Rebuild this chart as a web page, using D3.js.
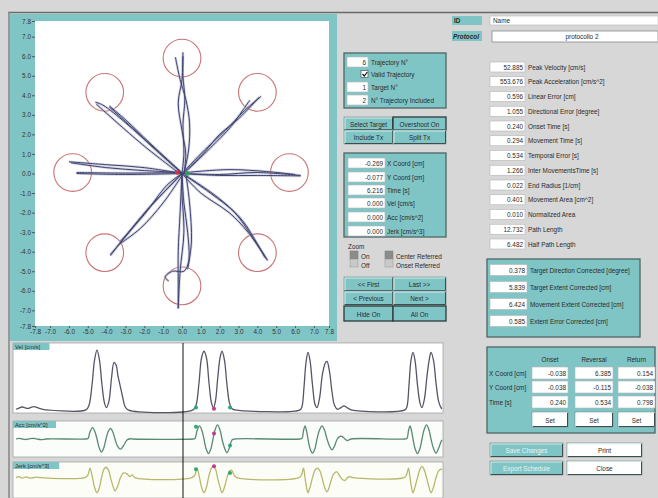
<!DOCTYPE html>
<html><head><meta charset="utf-8">
<script src="https://cdn.jsdelivr.net/npm/d3@7"></script>
<style>body{margin:0;background:#d7d7d7;} svg{display:block;font-family:"Liberation Sans",Arial,sans-serif;}</style>
</head><body><svg id="c" width="658" height="498"></svg>
<script>
// ---------------- DATA ----------------
const axisTicks = [-7.8,-7,-6,-5,-4,-3,-2,-1,0,1,2,3,4,5,6,7,7.8];
const targetX = [0, 4.0, 5.7, 4.0, 0, -4.1, -5.8, -4.1];
const targetY = [5.9, 4.15, 0.05, -4.05, -5.75, -4.05, 0.05, 4.15];
const targetRadius = 1.0;
const trajectories = [
  [[0,0],[0.1,1],[0.05,2.5],[0.15,3.8],[0.05,5.0],[0.05,6.2]],
  [[0.1,0],[0.35,1.2],[0.4,2.6],[0.2,3.8],[-0.1,4.8],[-0.35,5.95]],
  [[0.05,6.0],[0,4.8],[-0.2,3.6],[0.0,2.2],[0.2,1.0],[0.1,0]],
  [[0,0],[-1.5,1.3],[-3.0,2.6],[-4.2,3.5],[-4.6,3.65]],
  [[-4.55,3.55],[-3.5,2.65],[-2,1.4],[-0.2,0.05]],
  [[0.05,0],[-1.7,1.55],[-3.0,2.75],[-3.85,3.45]],
  [[-3.85,3.4],[-2.6,2.3],[-1.2,1.05],[0,0]],
  [[0,0],[1.2,1.2],[2.3,2.2],[3.3,3.2],[4.2,3.95]],
  [[0.1,0],[1.5,1.3],[2.6,2.4],[3.2,3.2],[3.6,3.75]],
  [[4.1,3.9],[3.0,2.8],[2.0,2.0],[1.2,1.1],[0.1,0.05]],
  [[0,0],[-2,0.3],[-4,0.45],[-6.0,0.6]],
  [[-5.9,0.55],[-4,0.3],[-2,0.15],[0,0.05]],
  [[0,0.05],[-3,0.02],[-5.6,0.05]],
  [[-5.6,0.0],[-3,-0.05],[0,0]],
  [[0,0],[2,-0.05],[4,0.05],[6.3,-0.1]],
  [[6.3,-0.12],[4,-0.1],[2,-0.1],[0,0]],
  [[0.2,0.05],[2.5,0.2],[4.5,0.1],[6.0,-0.05]],
  [[0,0],[-1.2,-1.2],[-2.5,-2.6],[-3.8,-4.2]],
  [[-3.8,-4.15],[-2.8,-3.0],[-1.8,-1.8],[-0.6,-0.6],[0,0]],
  [[0,-0.1],[-1.0,-1.5],[-2.2,-2.8],[-3.3,-3.6]],
  [[-3.3,-3.5],[-2.0,-2.1],[-0.8,-0.6],[0,0]],
  [[0,0],[1.5,-1.0],[2.8,-2.0],[3.7,-3.2],[4.55,-4.45]],
  [[4.5,-4.4],[3.5,-3.0],[2.5,-2.0],[1.0,-1.0],[0,0]],
  [[0.2,-0.1],[2,-1.3],[3.2,-2.4],[4.0,-3.6],[4.4,-4.3]],
  [[0,0],[0.1,-1.5],[0.3,-3],[0.35,-4.5],[0.1,-5.0],[-0.5,-5.0],[-0.9,-5.3],[-0.7,-5.5]],
  [[0,0],[-0.1,-2],[-0.2,-4],[-0.2,-5.5],[-0.2,-6.9]],
  [[-0.2,-6.9],[-0.1,-5],[0.1,-3],[0,-1],[0,0]],
  [[0.2,0],[0.4,-1.5],[0.5,-3.5],[0.3,-4.9]]
];
const onsetDots = [[-0.25,0.05,'#d03040'],[0.3,0.0,'#30a060']];

const velData = [
[0.00,0.5],[0.06,1.5],[0.12,2.5],[0.18,1.8],[0.24,1.2],[0.30,2.2],[0.36,2.8],[0.44,1.8],[0.52,0.6],[0.60,0],
[1.40,0],[1.46,4],[1.52,22],[1.57,44],[1.62,53],[1.67,44],[1.72,22],[1.77,6],[1.81,2],[1.86,8],[1.91,28],[1.96,42],[2.00,40],[2.04,30],[2.08,22],[2.13,12],[2.18,3],[2.24,0],
[3.54,0],[3.60,4],[3.66,24],[3.71,46],[3.76,52],[3.81,46],[3.86,24],[3.91,6],[3.95,2],[3.99,8],[4.03,26],[4.08,46],[4.12,52],[4.17,44],[4.22,22],[4.27,6],[4.32,1],[4.38,0],
[5.68,0],[5.72,3],[5.76,20],[5.80,42],[5.84,51],[5.88,44],[5.93,22],[5.98,5],[6.02,2],[6.07,10],[6.13,32],[6.19,42],[6.22,43],[6.27,34],[6.32,16],[6.37,4],[6.43,0.5],[6.50,2],[6.56,3.5],[6.62,2],[6.70,0],
[7.78,0],[7.82,3],[7.86,22],[7.90,44],[7.94,51],[7.98,44],[8.03,22],[8.08,6],[8.12,2],[8.17,10],[8.22,30],[8.27,46],[8.30,51],[8.35,44],[8.40,24],[8.45,8],[8.50,2],[8.52,1]
];
const accData = [
[0,0],[0.06,25],[0.12,0],[0.20,-20],[0.28,15],[0.36,25],[0.44,-10],[0.52,-25],[0.60,0],
[1.40,0],[1.44,20],[1.48,300],[1.53,480],[1.58,300],[1.62,0],[1.66,-350],[1.71,-560],[1.76,-350],[1.80,0],[1.84,300],[1.89,450],[1.94,280],[1.98,0],[2.03,-300],[2.09,-430],[2.15,-280],[2.22,-40],[2.28,10],[2.34,0],
[3.54,0],[3.58,20],[3.62,350],[3.67,560],[3.72,350],[3.76,0],[3.80,-400],[3.85,-620],[3.90,-400],[3.94,0],[3.98,380],[4.03,600],[4.08,380],[4.12,0],[4.17,-380],[4.22,-580],[4.27,-360],[4.32,-40],[4.38,0],
[5.68,0],[5.72,30],[5.75,350],[5.78,560],[5.81,350],[5.84,0],[5.88,-400],[5.93,-600],[5.98,-400],[6.02,0],[6.07,380],[6.12,560],[6.17,380],[6.22,0],[6.27,-300],[6.32,-460],[6.37,-300],[6.42,-20],[6.47,100],[6.52,110],[6.58,0],[6.63,-70],[6.70,0],
[7.78,0],[7.82,30],[7.85,350],[7.88,560],[7.91,350],[7.94,0],[7.98,-400],[8.03,-620],[8.08,-400],[8.12,0],[8.16,380],[8.21,600],[8.26,380],[8.30,0],[8.35,-400],[8.40,-600],[8.45,-400],[8.50,-120],[8.52,-40]
];
const jerkData = [
[0,0],[0.06,1],[0.12,-0.5],[0.20,0.8],[0.30,-0.6],[0.40,0.5],[0.50,0],
[1.38,0],[1.44,3],[1.48,10],[1.53,0],[1.57,-10],[1.62,-16],[1.67,-10],[1.71,0],[1.76,9],[1.80,11],[1.85,8],[1.89,0],[1.94,-9],[1.98,-14],[2.04,-8],[2.09,0],[2.15,5],[2.22,4],[2.28,1],[2.32,3],[2.38,0],
[3.52,0],[3.58,3],[3.62,10],[3.67,0],[3.71,-10],[3.76,-16],[3.81,-10],[3.85,0],[3.90,9],[3.94,12],[3.99,9],[4.03,0],[4.08,-10],[4.12,-16],[4.17,-10],[4.22,0],[4.27,7],[4.31,8],[4.36,3],[4.42,0],
[5.66,0],[5.71,3],[5.75,10],[5.78,0],[5.81,-10],[5.84,-16],[5.88,-10],[5.93,0],[5.98,8],[6.02,10],[6.07,8],[6.12,0],[6.17,-10],[6.22,-15],[6.27,-9],[6.32,0],[6.37,5],[6.42,6],[6.47,2],[6.53,-2],[6.58,-3],[6.63,0],[6.68,1],[6.74,0],
[7.76,0],[7.81,3],[7.85,10],[7.88,0],[7.91,-10],[7.94,-16],[7.98,-10],[8.03,0],[8.08,9],[8.12,12],[8.16,9],[8.21,0],[8.26,-10],[8.30,-16],[8.35,-10],[8.40,0],[8.45,7],[8.50,9],[8.52,8]
];
const cursorT = 3.34;
const markerT = [3.60, 3.96, 4.28];
const markerColors = ['#2fa878','#c23a8a','#2fa878'];
const velMarks = [2, 1, 2];
const accMarks = [520, 230, -280];
const jerkMarks = [9, 12, 5];

const trialFields = [['6','Trajectory N°'],[null,'Valid Trajectory'],['1','Target N°'],['2','N° Trajectory Included']];
const cursorValues = ['-0.269','-0.077','6.216','0.000','0.000','0.000'];
const cursorLabels = ['X Coord [cm]','Y Coord [cm]','Time [s]','Vel [cm/s]','Acc [cm/s^2]','Jerk [cm/s^3]'];
const measureValues = ['52.885','553.676','0.596','1.055','0.240','0.294','0.534','1.266','0.022','0.401','0.010','12.732','6.482'];
const measureLabels = ['Peak Velocity [cm/s]','Peak Acceleration [cm/s^2]','Linear Error [cm]','Directional Error [degree]','Onset Time [s]','Movement Time [s]','Temporal Error [s]','Inter MovementsTime [s]','End Radius [1/cm]','Movement Area [cm^2]','Normalized Area','Path Length','Half Path Length'];
const correctedValues = ['0.378','5.839','6.424','0.585'];
const correctedLabels = ['Target Direction Corrected [degree]','Target Extent Corrected [cm]','Movement Extent Corrected [cm]','Extent Error Corrected [cm]'];
const eventCols = ['Onset','Reversal','Return'];
const eventRows = ['X Coord [cm]','Y Coord [cm]','Time [s]'];
const eventValues = [['-0.038','6.385','0.154'],['-0.038','-0.115','-0.038'],['0.240','0.534','0.798']];

// ---------------- DRAW ----------------
const svg = d3.select('#c');
const TEAL = '#80c5c6', FS = 6.4, TXT = '#2a2a2a';
svg.append('rect').attr('width',658).attr('height',498).attr('fill','#d7d7d7');

function txt(g,x,y,s,o={}){
  return g.append('text').attr('x',x).attr('y',y).attr('dominant-baseline','central')
   .attr('font-size',o.size||FS).attr('fill',o.fill||TXT).attr('text-anchor',o.anchor||'start')
   .attr('font-weight',o.bold?'bold':null).attr('font-style',o.italic?'italic':null).text(s);
}
function field(g,x,y,w,h,s,anchor='end'){
  g.append('rect').attr('x',x).attr('y',y).attr('width',w).attr('height',h).attr('fill','#fff').attr('stroke','#b4b4b4').attr('stroke-width',0.6);
  if(s!==null) txt(g, anchor==='end'?x+w-2:anchor==='middle'?x+w/2:x+3, y+h/2, s, {anchor});
}
function box(g,x,y,w,h){
  g.append('rect').attr('x',x).attr('y',y).attr('width',w).attr('height',h).attr('fill',TEAL).attr('stroke','#4d6665').attr('stroke-width',1.3);
}
function button(g,x,y,w,h,s,o={}){
  const fill=o.fill||TEAL;
  g.append('rect').attr('x',x).attr('y',y).attr('width',w).attr('height',h).attr('fill',fill).attr('stroke',o.pressed?'#2c3a3a':'#7a8e8e').attr('stroke-width',o.pressed?1.3:0.7);
  if(!o.pressed){
    g.append('path').attr('d',`M${x+1},${y+h-1}V${y+1}H${x+w-1}`).attr('fill','none').attr('stroke','#e6f4f4').attr('stroke-width',0.8);
    g.append('path').attr('d',`M${x+1},${y+h-0.5}H${x+w-0.5}V${y+1}`).attr('fill','none').attr('stroke','#3c4e4e').attr('stroke-width',1);
  }
  txt(g,x+w/2,y+h/2+0.5,s,{anchor:'middle',fill:o.color||TXT});
}

// frame lines
svg.append('line').attr('x1',8).attr('x2',658).attr('y1',12.5).attr('y2',12.5).attr('stroke','#6a6a6a').attr('stroke-width',1.6);
svg.append('line').attr('x1',9).attr('x2',9).attr('y1',12).attr('y2',498).attr('stroke','#8a8a8a').attr('stroke-width',1.6);

// ---- main trajectory plot ----
const main = svg.append('g');
main.append('rect').attr('x',10).attr('y',14).attr('width',327).attr('height',327).attr('fill',TEAL);
const x = d3.scaleLinear().domain([-7.8,7.8]).range([35,329]);
const y = d3.scaleLinear().domain([-7.8,7.8]).range([326,21]);
main.append('rect').attr('x',35).attr('y',21).attr('width',294).attr('height',305).attr('fill','#fff');
const fmt = d => d.toFixed(1);
const ya = main.append('g').attr('transform','translate(35,0)')
  .call(d3.axisLeft(y).tickValues(axisTicks).tickFormat(fmt).tickSize(3).tickPadding(1));
const xa = main.append('g').attr('transform','translate(0,326)')
  .call(d3.axisBottom(x).tickValues(axisTicks).tickFormat(fmt).tickSize(2).tickPadding(1));
[ya,xa].forEach(a=>{a.select('.domain').remove();
  a.selectAll('text').attr('font-size',FS).attr('fill','#333').attr('font-family','"Liberation Sans",Arial,sans-serif');
  a.selectAll('line').attr('stroke','#555');});
const pxPerCm = x(1)-x(0);
main.selectAll('circle.t').data(targetX).enter().append('circle')
  .attr('cx',(d)=>x(d)).attr('cy',(d,i)=>y(targetY[i])).attr('r',targetRadius*pxPerCm)
  .attr('fill','none').attr('stroke','#c97474').attr('stroke-width',1.1);
const line = d3.line().x(d=>x(d[0])).y(d=>y(d[1])).curve(d3.curveCatmullRom.alpha(0.5));
main.selectAll('path.halo').data(trajectories).enter().append('path').attr('d',line)
  .attr('fill','none').attr('stroke','#b4b6c8').attr('stroke-width',2.6).attr('opacity',0.6);
main.selectAll('path.tr').data(trajectories).enter().append('path').attr('d',line)
  .attr('fill','none').attr('stroke','#3e4272').attr('stroke-width',1);
onsetDots.forEach(d=>main.append('circle').attr('cx',x(d[0])).attr('cy',y(d[1])).attr('r',2.3).attr('fill',d[2]));

// ---- time plots ----
const tp = svg.append('g');
const t = d3.scaleLinear().domain([0,8.52]).range([16,442]);
const panels = [
  {y0:343,y1:413,data:velData,dom:[-1.5,58],color:'#555566',label:'Vel [cm/s]',marks:velMarks,bg:'#fff'},
  {y0:421,y1:457,data:accData,dom:[-700,700],color:'#5a8a72',label:'Acc [cm/s^2]',marks:accMarks,bg:'#fbfdfb'},
  {y0:462,y1:498,data:jerkData,dom:[-20,15],color:'#b7b86c',label:'Jerk [cm/s^3]',marks:jerkMarks,bg:'#fdfdf7'}
];
panels.forEach(p=>{
  tp.append('rect').attr('x',13).attr('y',p.y0).attr('width',430).attr('height',p.y1-p.y0).attr('fill',p.bg).attr('stroke','#9a9a9a').attr('stroke-width',0.7);
  const ys = d3.scaleLinear().domain(p.dom).range([p.y1-1.5,p.y0+1.5]);
  const ln = d3.line().x(d=>t(d[0])).y(d=>ys(d[1])).curve(d3.curveCatmullRom.alpha(0.5));
  tp.append('path').attr('d',ln(p.data)).attr('fill','none').attr('stroke',p.color).attr('stroke-width',1.3);
  markerT.forEach((m,i)=>tp.append('circle').attr('cx',t(m)).attr('cy',ys(p.marks[i])).attr('r',2).attr('fill',markerColors[i]));
  const lw = p.label.length*3.25+4;
  tp.append('rect').attr('x',13).attr('y',p.y0).attr('width',lw).attr('height',7).attr('fill',TEAL);
  txt(tp,15,p.y0+3.7,p.label,{size:5.8});
});
tp.append('line').attr('x1',t(cursorT)).attr('x2',t(cursorT)).attr('y1',343).attr('y2',498).attr('stroke','#111').attr('stroke-width',1);

// ---- middle panel ----
const mid = svg.append('g');
box(mid,344,53,102,55);
const rowY1=[62,74,87,100];
trialFields.forEach((f,i)=>{
  if(f[0]!==null) field(mid,347,rowY1[i]-5,21,10,f[0]);
  else {
    mid.append('rect').attr('x',361).attr('y',rowY1[i]-3.5).attr('width',7).attr('height',7).attr('fill','#fff').attr('stroke','#555').attr('stroke-width',0.7);
    mid.append('path').attr('d',`M${362.5},${rowY1[i]} l1.8,2 l3,-4`).attr('fill','none').attr('stroke','#111').attr('stroke-width',1.2);
  }
  txt(mid,371,rowY1[i],f[1]);
});
button(mid,344,117,49,13,'Select Target');
button(mid,393,117,53,13,'Overshoot On',{pressed:true});
button(mid,344,130,49,14,'Include Tx');
button(mid,393,130,53,14,'Split Tx');
box(mid,344,153,102,84);
const rowY2=[163,177,190,203,217,231];
cursorValues.forEach((v,i)=>{ field(mid,348,rowY2[i]-5,37,10,v); txt(mid,387,rowY2[i],cursorLabels[i]); });
txt(mid,348,246,'Zoom');
[[350,'On','Off'],[385,'Center Referred','Onset Referred']].forEach(([ix,a,b])=>{
  mid.append('rect').attr('x',ix).attr('y',251).attr('width',8).attr('height',8).attr('fill','#8c8c8c').attr('stroke','#777').attr('stroke-width',0.5);
  mid.append('rect').attr('x',ix).attr('y',259).attr('width',8).attr('height',8).attr('fill','#c9c9c9').attr('stroke','#999').attr('stroke-width',0.5);
  txt(mid,ix+11,256,a); txt(mid,ix+11,265,b);
});
button(mid,344,277,49,14,'<< First');
button(mid,393,277,53,14,'Last >>');
button(mid,344,291,49,14,'< Previous');
button(mid,393,291,53,14,'Next >');
button(mid,344,306,49,15,'Hide On',{pressed:true});
button(mid,393,306,53,15,'All On',{pressed:true});

// ---- right panel ----
const rp = svg.append('g');
rp.append('rect').attr('x',452).attr('y',16).attr('width',30).attr('height',9).attr('fill',TEAL);
txt(rp,454,20.5,'ID',{bold:true});
rp.append('rect').attr('x',452).attr('y',31).attr('width',30).attr('height',10).attr('fill',TEAL);
txt(rp,453,36,'Protocol',{bold:true,italic:true});
field(rp,490,16,168,9,'Name','start');
rp.append('rect').attr('x',492).attr('y',31).attr('width',166).attr('height',11).attr('fill','#fff').attr('stroke','#8a8a8a').attr('stroke-width',0.8);
txt(rp,582,36.5,'protocollo 2',{anchor:'middle'});
measureValues.forEach((v,i)=>{
  const yy = 67 + i*14.75;
  field(rp,490,yy-5,35,10,v);
  txt(rp,528,yy,measureLabels[i]);
});
box(rp,487,259,153,78);
[270,287,304,321].forEach((yy,i)=>{ field(rp,490,yy-5.5,37,11,correctedValues[i]); txt(rp,530,yy,correctedLabels[i]); });
box(rp,487,347,168,86);
const colX=[532,575,618], colW=[36,38,37];
eventCols.forEach((c,j)=>txt(rp,colX[j]+colW[j]/2,359,c,{anchor:'middle'}));
[373,387,402].forEach((yy,i)=>{
  txt(rp,489,yy,eventRows[i]);
  eventValues[i].forEach((v,j)=>field(rp,colX[j],yy-6,colW[j],12,v));
});
colX.forEach((cx,j)=>button(rp,cx,412,colW[j],15,'Set',{fill:'#ffffff'}));
button(rp,490,443,73,14,'Save Changes',{color:'#e6f4f4'});
button(rp,567,443,75,14,'Print',{fill:'#ffffff'});
button(rp,490,461,73,14,'Export Schedule',{color:'#e6f4f4'});
button(rp,567,461,75,14,'Close',{fill:'#ffffff'});
</script></body></html>
